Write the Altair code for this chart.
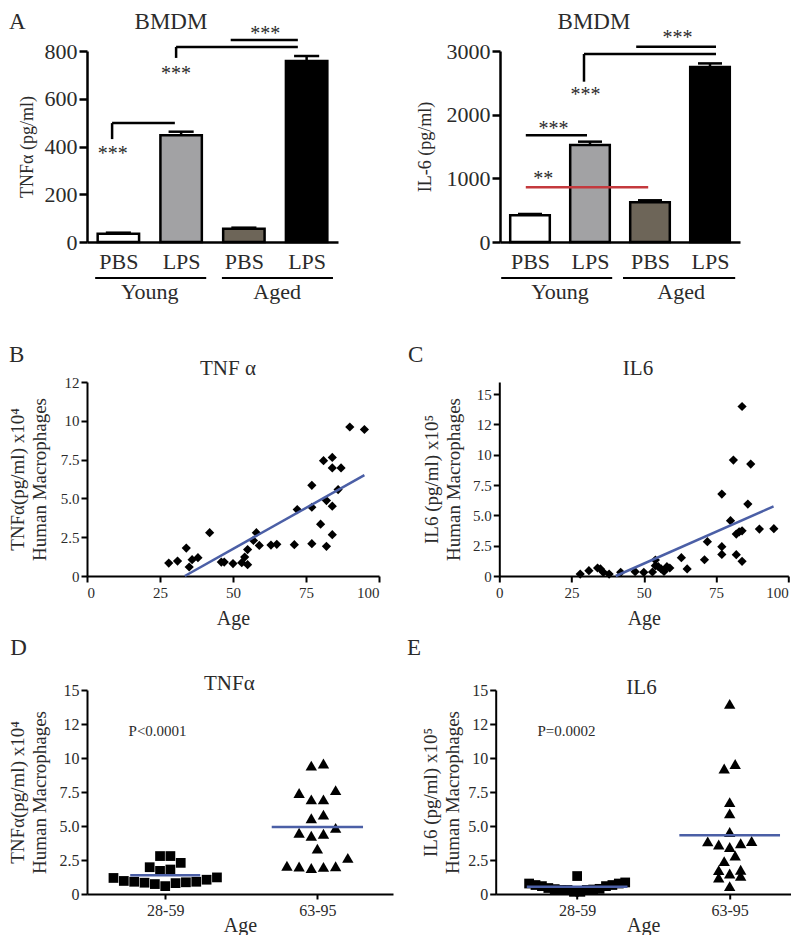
import altair as alt
import pandas as pd

FONT = "Liberation Serif"
INK = "#2b2b2b"
BLUE = "#4b5fa6"
RED = "#c4393d"

# ---------------- Panel A: BMDM cytokines ----------------
a_cond = ["PBS", "LPS", "PBS", "LPS"]
a_fill = ["#ffffff", "#a2a2a4", "#6d6558", "#000000"]
a_tnf_mean = [35, 447, 56, 758]
a_tnf_err = [4, 15, 4, 21]
a_il6_mean = [420, 1523, 623, 2748]
a_il6_err = [20, 53, 32, 57]
a_tnf_ticks = [0, 200, 400, 600, 800]
a_il6_ticks = [0, 1000, 2000, 3000]
a_groups = ["Young", "Aged"]

# significance brackets (x in bar-slot units, y in data units)
a1_seg_x = [-0.10, -0.10, 0.92, 0.92, 1.79]
a1_seg_x2 = [-0.10, 0.90, 0.92, 2.86, 2.86]
a1_seg_y = [431, 498, 771, 817, 846]
a1_seg_y2 = [498, 498, 817, 817, 846]
a1_star_x = [-0.09, 0.92, 2.34]
a1_star_y = [342, 677, 844]
a1_star_t = ["***", "***", "***"]
a1_grp_x = [-0.37, 1.65]
a1_grp_x2 = [1.40, 3.42]
a1_grp_mid = [0.50, 2.53]

a2_seg_x = [1.77, 0.90, 0.90, -0.07]
a2_seg_x2 = [3.10, 3.10, 0.90, 0.95]
a2_seg_y = [3068, 2953, 2518, 1676]
a2_seg_y2 = [3068, 2953, 2953, 1676]
a2_red_x = [-0.07]
a2_red_x2 = [1.97]
a2_red_y = [859]
a2_star_x = [2.46, 0.925, 0.39, 0.22]
a2_star_y = [3104, 2208, 1674, 889]
a2_star_t = ["***", "***", "***", "**"]
a2_grp_x = [-0.48, 1.55]
a2_grp_x2 = [1.37, 3.42]
a2_grp_mid = [0.50, 2.52]

# ---------------- Human macrophages ----------------
tnf_age = [28, 31, 34, 35, 36, 38, 42, 46, 47, 50, 53, 55, 54, 55, 57, 58, 59,
           63, 65, 71, 72, 77, 77, 77, 80, 81, 82, 82, 84, 84, 84, 84, 86, 87, 90, 95]
tnf_val = [0.83, 0.96, 1.80, 0.58, 1.05, 1.18, 2.79, 0.90, 0.90, 0.80, 0.86, 0.73, 1.22, 1.70, 2.29, 2.79, 1.97,
           1.99, 2.04, 2.02, 4.28, 5.84, 4.43, 2.08, 3.34, 7.43, 4.86, 1.91, 7.64, 6.96, 4.50, 2.66, 5.57, 6.96,
           9.60, 9.44]
tnf_fit_age = [33.5, 95]
tnf_fit_val = [0.0, 6.5]

il6_age = [28, 31, 34, 35, 36, 38, 42, 47, 50, 53, 54, 54, 55, 56, 57, 58, 59,
           63, 65, 71, 72, 77, 77, 77, 80, 81, 82, 82, 83, 84, 84, 84, 86, 87, 90, 95]
il6_val = [0.16, 0.44, 0.66, 0.58, 0.30, 0.16, 0.30, 0.36, 0.30, 0.33, 1.32, 0.85, 0.77, 0.58, 0.38, 0.77, 0.66,
           1.51, 0.58, 1.34, 2.83, 6.76, 2.42, 1.78, 4.56, 9.56, 3.46, 1.76, 3.64, 13.98, 3.73, 1.21, 5.93, 9.23,
           3.87, 3.90]
il6_fit_age = [40.3, 94.9]
il6_fit_val = [0.0, 5.74]

age_ticks = [0, 25, 50, 75, 100]
b_yticks = [0, 2.5, 5, 7.5, 10, 12.5]
c_yticks = [0, 2.5, 5, 7.5, 10, 12.5, 15]
de_yticks = [0, 2.5, 5, 7.5, 10, 12.5, 15]
age_groups = ["28-59", "63-95"]
age_split = 60
d_mean_halfwidth = [0.23, 0.30]
e_mean_halfwidth = [0.33, 0.33]
d_p_text, d_p_x, d_p_y = "P<0.0001", 0.95, 12.0
e_p_text, e_p_x, e_p_y = "P=0.0002", 0.93, 12.0

Y_LABEL_EXPR = ("datum.value == 12.5 ? '12' : ((datum.value >= 10 || datum.value == 0) "
                "? format(datum.value, 'd') : format(datum.value, '.1f'))")


def swarm_offsets(values, thresh, step):
    order = sorted(range(len(values)), key=lambda i: values[i])
    groups, cur = [], []
    for i in order:
        if cur and values[i] - values[cur[0]] > thresh:
            groups.append(cur)
            cur = []
        cur.append(i)
    if cur:
        groups.append(cur)
    off = [0.0] * len(values)
    for g in groups:
        n = len(g)
        slots = sorted([k - (n - 1) / 2 for k in range(n)], key=lambda s: (abs(s), s))
        for i, s in zip(g, slots):
            off[i] = s * step
    return off


def label(text, x, y, size, align="left", baseline="top"):
    return alt.Chart(pd.DataFrame({"t": [text]})).mark_text(
        align=align, baseline=baseline, fontSize=size, font=FONT, color=INK
    ).encode(text="t:N", x=alt.value(x), y=alt.value(y))


def letter(text, x, y):
    return label(text, x, y, 23)


def ptitle(text, x, y, size=21):
    return label(text, x, y, size, align="center", baseline="alphabetic")


def spacer(x, top, bottom):
    return alt.Chart(pd.DataFrame({"s": [0]})).mark_rect(opacity=0).encode(
        x=alt.value(x), x2=alt.value(x + 1), y=alt.value(top), y2=alt.value(bottom))


def bmdm_panel(mean, err, ymax, yticks, ytitle, seg, stars, grp, width, title_pad,
               red=None, extras=()):
    xs = alt.Scale(domain=[-0.5, 3.5], nice=False, zero=False)
    ys = alt.Scale(domain=[0, ymax], nice=False)
    lab = "[" + ",".join("'%s'" % c for c in a_cond) + "][datum.value]"
    xax = alt.Axis(values=[0, 1, 2, 3], labelExpr=lab, ticks=False, tickSize=0, title=None,
                   domainWidth=2.5, labelFontSize=22, labelPadding=9)
    yax = alt.Axis(values=yticks, format="d", title=ytitle, tickSize=8, tickWidth=2.5, domainWidth=2.5,
                   labelFontSize=22, labelPadding=2, titleFontSize=18, titlePadding=title_pad)

    def X(f):
        return alt.X(f"{f}:Q", scale=xs, axis=xax)

    def Y(f):
        return alt.Y(f"{f}:Q", scale=ys, axis=yax)

    df = pd.DataFrame({"x": list(range(len(mean))), "m": mean, "e": err, "fill": a_fill})
    base = alt.Chart(df).transform_calculate(
        top="datum.m + datum.e", zero="0",
        x0="datum.x - 0.33", x1="datum.x + 0.33",
        c0="datum.x - 0.2", c1="datum.x + 0.2")
    layers = [
        base.mark_rule(color="black", strokeWidth=2.5).encode(x=X("x"), y=Y("m"), y2="top:Q"),
        base.mark_rule(color="black", strokeWidth=2.5).encode(x=X("c0"), x2="c1:Q", y=Y("top")),
        base.mark_rect(stroke="black", strokeWidth=2.5).encode(
            x=X("x0"), x2="x1:Q", y=Y("m"), y2="zero:Q", fill=alt.Fill("fill:N", scale=None)),
    ]
    sdf = pd.DataFrame({"x": seg[0], "x2": seg[1], "y": seg[2], "y2": seg[3]})
    layers.append(alt.Chart(sdf).mark_rule(color="black", strokeWidth=2.5).encode(
        x=X("x"), x2="x2:Q", y=Y("y"), y2="y2:Q"))
    if red is not None:
        rdf = pd.DataFrame({"x": red[0], "x2": red[1], "y": red[2]})
        layers.append(alt.Chart(rdf).mark_rule(color=RED, strokeWidth=2.5).encode(
            x=X("x"), x2="x2:Q", y=Y("y")))
    tdf = pd.DataFrame({"x": stars[0], "y": stars[1], "t": stars[2]})
    layers.append(alt.Chart(tdf).mark_text(fontSize=20, font=FONT, color=INK, baseline="alphabetic").encode(
        x=X("x"), y=Y("y"), text="t:N"))
    gdf = pd.DataFrame({"x": grp[0], "x2": grp[1], "mid": grp[2], "name": a_groups})
    layers.append(alt.Chart(gdf).mark_rule(color="black", strokeWidth=2).encode(
        x=X("x"), x2="x2:Q", y=alt.value(227)))
    layers.append(alt.Chart(gdf).mark_text(fontSize=22, font=FONT, color=INK, baseline="alphabetic").encode(
        x=X("mid"), y=alt.value(248), text="name:N"))
    layers.extend(extras)
    return alt.layer(*layers).properties(width=width, height=191)


def age_panel(age, val, fit_a, fit_v, ymax, yticks, ytitle, width, height, title_pad,
              right_flush=False, extras=()):
    xs = alt.Scale(domain=[0, 100], nice=False)
    ys = alt.Scale(domain=[0, ymax], nice=False)
    xkw = {}
    if right_flush:
        xkw["labelAlign"] = {"condition": {"test": "datum.value == 100", "value": "right"}, "value": "center"}
    xax = alt.Axis(values=age_ticks, title="Age", tickSize=6, tickWidth=2, domainWidth=2,
                   labelFontSize=15, labelPadding=3, titleFontSize=20, titlePadding=8, **xkw)
    yax = alt.Axis(values=yticks, labelExpr=Y_LABEL_EXPR, title=ytitle, tickSize=6, tickWidth=2,
                   domainWidth=2, labelFontSize=15, labelPadding=2, titleFontSize=19,
                   titleLineHeight=22, titlePadding=title_pad)

    def X(f):
        return alt.X(f"{f}:Q", scale=xs, axis=xax)

    def Y(f):
        return alt.Y(f"{f}:Q", scale=ys, axis=yax)

    df = pd.DataFrame({"age": age, "v": val})
    fdf = pd.DataFrame({"age": fit_a, "v": fit_v})
    layers = [
        alt.Chart(df).mark_point(shape="diamond", filled=True, size=85, color="black", opacity=1).encode(
            x=X("age"), y=Y("v")),
        alt.Chart(fdf).mark_line(color=BLUE, strokeWidth=2.5).encode(x=X("age"), y=Y("v")),
    ]
    layers.extend(extras)
    return alt.layer(*layers).properties(width=width, height=height)


def group_panel(age, val, thresh, steps, halfw, ptext, px, py, ytitle, width, height, xdom,
                title_pad, extras=()):
    g = [1 if a < age_split else 2 for a in age]
    off = [0.0] * len(val)
    for k, step in zip((1, 2), steps):
        idx = [i for i in range(len(val)) if g[i] == k]
        o = swarm_offsets([val[i] for i in idx], thresh, step)
        for i, oi in zip(idx, o):
            off[i] = oi
    df = pd.DataFrame({"g": g, "v": val, "off": off})
    xs = alt.Scale(domain=xdom, nice=False, zero=False)
    ys = alt.Scale(domain=[0, 15], nice=False)
    lab = "[" + ",".join("'%s'" % c for c in age_groups) + "][datum.value - 1]"
    xax = alt.Axis(values=[1, 2], labelExpr=lab, title="Age", tickSize=5, tickWidth=2, domainWidth=2,
                   labelFontSize=16, labelPadding=3, titleFontSize=20, titlePadding=-3)
    yax = alt.Axis(values=de_yticks, labelExpr=Y_LABEL_EXPR, title=ytitle, tickSize=6, tickWidth=2,
                   domainWidth=2, labelFontSize=16, labelPadding=2, titleFontSize=19,
                   titleLineHeight=22, titlePadding=title_pad)

    def X(f):
        return alt.X(f"{f}:Q", scale=xs, axis=xax)

    def Y(f):
        return alt.Y(f"{f}:Q", scale=ys, axis=yax)

    pts = alt.Chart(df).transform_calculate(xp="datum.g + datum.off").mark_point(
        filled=True, opacity=1, color="black").encode(
        x=X("xp"), y=Y("v"),
        shape=alt.Shape("g:N", scale=alt.Scale(domain=[1, 2], range=["square", "triangle-up"]), legend=None),
        size=alt.Size("g:O", scale=alt.Scale(domain=[1, 2], range=[95, 130]), legend=None))
    hw_expr = f"datum.g == 1 ? {halfw[0]} : {halfw[1]}"
    mean = alt.Chart(df).transform_aggregate(m="mean(v)", groupby=["g"]).transform_calculate(
        hw=hw_expr).transform_calculate(x0="datum.g - datum.hw", x1="datum.g + datum.hw").mark_rule(
        color=BLUE, strokeWidth=2.5).encode(x=X("x0"), x2="x1:Q", y=Y("m"))
    pdf = pd.DataFrame({"x": [px], "y": [py], "t": [ptext]})
    ptxt = alt.Chart(pdf).mark_text(fontSize=15, font=FONT, color=INK).encode(x=X("x"), y=Y("y"), text="t:N")
    layers = [pts, mean, ptxt]
    layers.extend(extras)
    return alt.layer(*layers).properties(width=width, height=height)


A1 = bmdm_panel(a_tnf_mean, a_tnf_err, 800, a_tnf_ticks, "TNFα (pg/ml)",
                (a1_seg_x, a1_seg_x2, a1_seg_y, a1_seg_y2), (a1_star_x, a1_star_y, a1_star_t),
                (a1_grp_x, a1_grp_x2, a1_grp_mid), 251, 8,
                extras=(letter("A", -78, -40), ptitle("BMDM", 84, -22, 23), spacer(-78, -43, 269)))
A2 = bmdm_panel(a_il6_mean, a_il6_err, 3000, a_il6_ticks, "IL-6 (pg/ml)",
                (a2_seg_x, a2_seg_x2, a2_seg_y, a2_seg_y2), (a2_star_x, a2_star_y, a2_star_t),
                (a2_grp_x, a2_grp_x2, a2_grp_mid), 240, 12,
                red=(a2_red_x, a2_red_x2, a2_red_y),
                extras=(ptitle("BMDM", 94, -22, 23),))

B = age_panel(tnf_age, tnf_val, tnf_fit_age, tnf_fit_val, 12.5, b_yticks,
              ["TNFα(pg/ml) x10⁴", "Human Macrophages"], 292, 194, 11,
              extras=(letter("B", -78, -37.7), ptitle("TNF α", 141, -7), spacer(-78, -61.7, 250.3)))
C = age_panel(il6_age, il6_val, il6_fit_age, il6_fit_val, 16, c_yticks,
              ["IL6 (pg/ml) x10⁵", "Human Macrophages"], 289, 194, 9, right_flush=True,
              extras=(letter("C", -91.3, -37.7), ptitle("IL6", 138.7, -7)))

D = group_panel(tnf_age, tnf_val, 0.8, (0.068, 0.08), d_mean_halfwidth, d_p_text, d_p_x, d_p_y,
                ["TNFα(pg/ml) x10⁴", "Human Macrophages"], 306, 204, [0.486, 2.497], 10,
                extras=(letter("D", -76.7, -53.3), ptitle("TNFα", 142.3, 0), spacer(-76.7, -56.3, 240)))
E = group_panel(il6_age, il6_val, 0.8, (0.042, 0.072), e_mean_halfwidth, e_p_text, e_p_x, e_p_y,
                ["IL6 (pg/ml) x10⁵", "Human Macrophages"], 295, 204, [0.466, 2.40], 5,
                extras=(letter("E", -88.7, -53.3), ptitle("IL6", 145.8, 4.4)))

row1 = alt.hconcat(A1, A2, spacing=162, bounds="flush")
row2 = alt.hconcat(B, C, spacing=120.3, bounds="flush")
row3 = alt.hconcat(D, E, spacing=102.7, bounds="flush")

chart = alt.vconcat(row1, row2, row3, spacing=0, padding=0).configure_view(stroke=None).configure_axis(
    grid=False, domainColor="black", tickColor="black", labelColor=INK, titleColor=INK,
    labelFont=FONT, titleFont=FONT, titleFontWeight="normal"
)

chart.save("out.html", embed_options={"renderer": "svg", "actions": False})
